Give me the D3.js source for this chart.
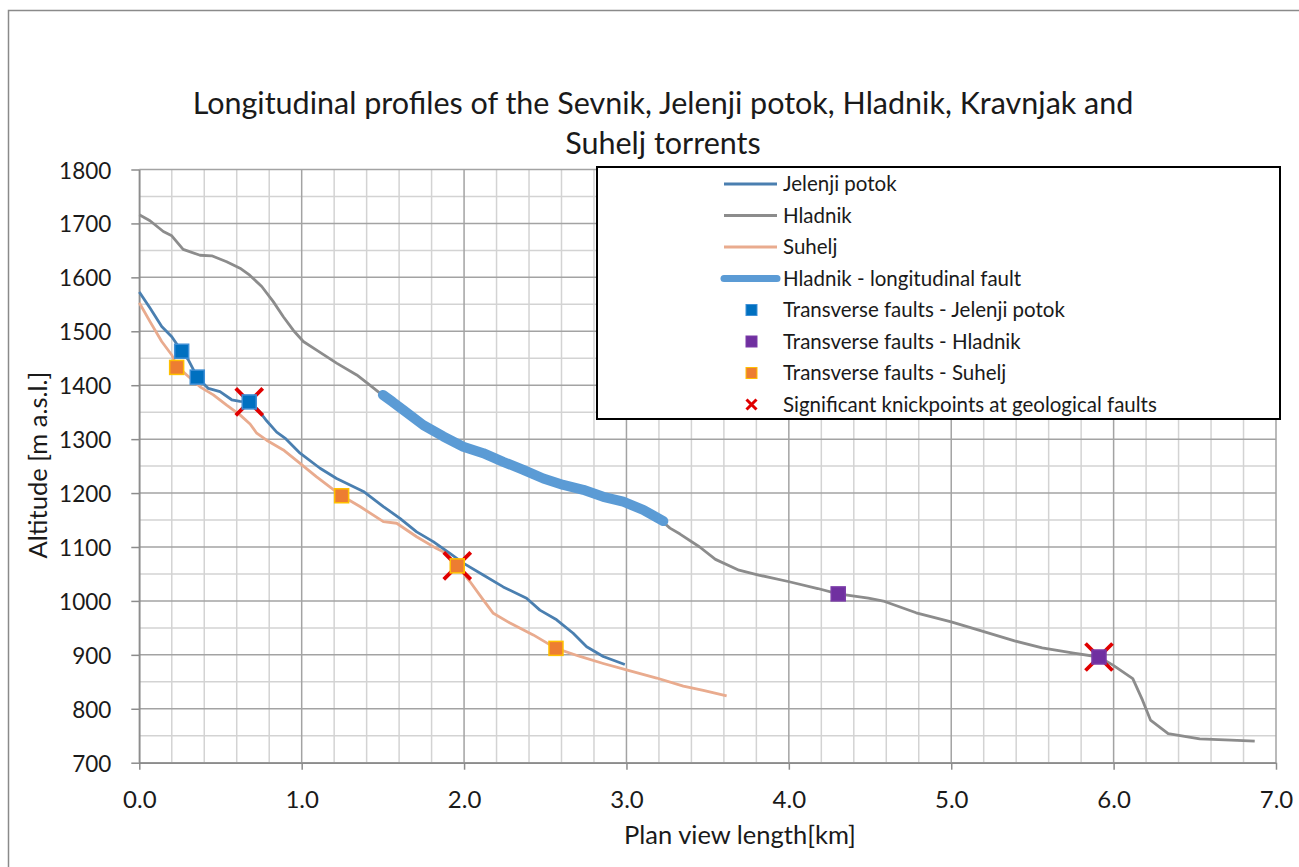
<!DOCTYPE html>
<html><head><meta charset="utf-8">
<script src="https://cdn.jsdelivr.net/npm/d3@7"></script>
<style>body{margin:0;background:#fff}svg{display:block}text{font-family:Lato,"Open Sans",sans-serif;fill:#1a1a1a}</style>
</head><body><svg id="c" width="1299" height="867"></svg>
<script>
const titleLines = ["Longitudinal profiles of the Sevnik, Jelenji potok, Hladnik, Kravnjak and", "Suhelj torrents"];
const xTickLabels = [0, 1, 2, 3, 4, 5, 6, 7];
const yTickLabels = [700, 800, 900, 1000, 1100, 1200, 1300, 1400, 1500, 1600, 1700, 1800];
const xTitle = "Plan view length[km]";
const yTitle = "Altitude [m a.s.l.]";

const jelenji = [[0,1573],[0.066,1543],[0.138,1509],[0.2,1490],[0.261,1463],[0.302,1447],[0.357,1415],[0.425,1394],[0.497,1388],[0.569,1373],[0.62,1370],[0.677,1369],[0.733,1354],[0.784,1334],[0.846,1313],[0.897,1302],[0.99,1274],[1.113,1246],[1.215,1227],[1.38,1203],[1.503,1175],[1.605,1153],[1.708,1128],[1.81,1110],[1.913,1088],[1.995,1070],[2.118,1048],[2.241,1026],[2.385,1005],[2.467,983],[2.57,965],[2.672,940],[2.755,915],[2.857,897],[2.99,882]];
const hladnik = [[0,1716],[0.066,1705],[0.148,1685],[0.2,1677],[0.27,1652],[0.374,1641],[0.446,1640],[0.538,1629],[0.62,1617],[0.68,1604],[0.754,1583],[0.825,1555],[0.887,1527],[0.948,1502],[1.01,1481],[1.092,1465],[1.215,1441],[1.339,1419],[1.42,1400],[1.47,1388],[1.503,1380],[1.626,1354],[1.749,1326],[1.872,1305],[1.995,1286],[2.118,1274],[2.241,1258],[2.365,1243],[2.488,1227],[2.611,1215],[2.734,1206],[2.857,1193],[2.98,1184],[3.103,1169],[3.227,1146],[3.268,1135],[3.33,1124],[3.451,1100],[3.548,1077],[3.693,1057],[3.814,1048],[3.996,1036],[4.178,1023],[4.304,1013],[4.49,1005],[4.59,999],[4.784,978],[5.0,961],[5.17,946],[5.39,926],[5.56,913],[5.754,903],[5.91,896],[5.996,881],[6.118,856],[6.178,816],[6.227,779],[6.336,754],[6.53,744],[6.724,742],[6.869,740]];
const suhelj = [[0,1553],[0.066,1518],[0.138,1481],[0.2,1456],[0.23,1436],[0.292,1419],[0.374,1397],[0.456,1382],[0.538,1363],[0.62,1345],[0.682,1328],[0.723,1311],[0.784,1298],[0.887,1280],[0.99,1255],[1.092,1230],[1.246,1195],[1.359,1175],[1.503,1147],[1.585,1144],[1.708,1119],[1.831,1097],[1.893,1088],[1.958,1065],[2.036,1036],[2.118,1002],[2.18,977],[2.283,959],[2.426,937],[2.566,912],[2.714,897],[2.857,884],[3.0,872],[3.186,857],[3.35,842],[3.473,834],[3.617,824]];
const hladnikFault = [[1.50,1382],[1.56,1369],[1.626,1354],[1.749,1326],[1.872,1305],[1.995,1286],[2.118,1274],[2.241,1258],[2.365,1243],[2.488,1227],[2.611,1215],[2.734,1206],[2.857,1193],[2.98,1184],[3.103,1169],[3.227,1148]];
const faultsJelenji = [[0.261,1463],[0.357,1415],[0.677,1369]];
const faultsHladnik = [[4.304,1013],[5.91,896]];
const faultsSuhelj = [[0.23,1433],[1.246,1195],[1.958,1065],[2.566,912]];
const knickpoints = [[0.677,1369],[1.958,1065],[5.91,896]];

const legendItems = [
  {label:"Jelenji potok", type:"line", color:"#4a7fb0", w:2.8},
  {label:"Hladnik", type:"line", color:"#8c8c8c", w:2.8},
  {label:"Suhelj", type:"line", color:"#e9ab8e", w:2.8},
  {label:"Hladnik - longitudinal fault", type:"line", color:"#5b9bd5", w:7},
  {label:"Transverse faults - Jelenji potok", type:"sq", color:"#0070c0", stroke:"#3f8fd6"},
  {label:"Transverse faults - Hladnik", type:"sq", color:"#7030a0", stroke:"#7a3aa8"},
  {label:"Transverse faults - Suhelj", type:"sq", color:"#ed7d31", stroke:"#ffc000"},
  {label:"Significant knickpoints at geological faults", type:"x", color:"#e00000"}
];

const svg = d3.select("#c");
const x = d3.scaleLinear().domain([0, 7]).range([139.3, 1276]);
const y = d3.scaleLinear().domain([700, 1800]).range([762.7, 169.5]);

// outer border
svg.append("rect").attr("x",8.5).attr("y",10.5).attr("width",1400).attr("height",1000)
  .attr("fill","none").attr("stroke","#8a8a8a").attr("stroke-width",1.5);

// grid
const g = svg.append("g");
const minorX = d3.range(0, 36).map(i => i * 0.2).filter(v => Math.abs(v - Math.round(v)) > 1e-6);
const minorY = d3.range(700, 1801, 50).filter(v => v % 100 !== 0);
g.selectAll(".mx").data(minorX).join("line").attr("x1",d=>x(d)).attr("x2",d=>x(d)).attr("y1",y(700)).attr("y2",y(1800)).attr("stroke","#d3d3d3").attr("stroke-width",1.5);
g.selectAll(".my").data(minorY).join("line").attr("y1",d=>y(d)).attr("y2",d=>y(d)).attr("x1",x(0)).attr("x2",x(7)).attr("stroke","#d3d3d3").attr("stroke-width",1.5);
g.selectAll(".Mx").data(xTickLabels).join("line").attr("x1",d=>x(d)).attr("x2",d=>x(d)).attr("y1",y(700)).attr("y2",y(1800)).attr("stroke","#a3a3a3").attr("stroke-width",1.5);
g.selectAll(".My").data(yTickLabels).join("line").attr("y1",d=>y(d)).attr("y2",d=>y(d)).attr("x1",x(0)).attr("x2",x(7)).attr("stroke","#a3a3a3").attr("stroke-width",1.5);

// axes
const xAxis = svg.append("g").attr("transform",`translate(0,${y(700)})`)
  .call(d3.axisBottom(x).tickValues(xTickLabels).tickFormat(d3.format(".1f")).tickSize(7).tickSizeOuter(0));
xAxis.select(".domain").attr("stroke","#8c8c8c").attr("stroke-width",1.5);
xAxis.selectAll(".tick line").attr("stroke","#8c8c8c").attr("stroke-width",1.5);
xAxis.selectAll("text").attr("font-family","Lato").attr("font-size",24).attr("fill","#1a1a1a").attr("dy",null).attr("y",45);

const yAxis = svg.append("g").attr("transform",`translate(${x(0)},0)`)
  .call(d3.axisLeft(y).tickValues(yTickLabels).tickFormat(d3.format("d")).tickSize(8).tickSizeOuter(0));
yAxis.select(".domain").attr("stroke","#8c8c8c").attr("stroke-width",1.5);
yAxis.selectAll(".tick line").attr("stroke","#8c8c8c").attr("stroke-width",1.5);
yAxis.selectAll("text").attr("font-family","Lato").attr("font-size",22.5).attr("fill","#1a1a1a").attr("x",-28).attr("dy","0.38em");

// lines
const line = d3.line().x(d=>x(d[0])).y(d=>y(d[1])).curve(d3.curveLinear);
svg.append("path").datum(suhelj).attr("d",line).attr("fill","none").attr("stroke","#e9ab8e").attr("stroke-width",2.8).attr("stroke-linejoin","round");
svg.append("path").datum(jelenji).attr("d",line).attr("fill","none").attr("stroke","#4a7fb0").attr("stroke-width",2.8).attr("stroke-linejoin","round");
svg.append("path").datum(hladnik).attr("d",line).attr("fill","none").attr("stroke","#8c8c8c").attr("stroke-width",2.8).attr("stroke-linejoin","round");
svg.append("path").datum(hladnikFault).attr("d",line).attr("fill","none").attr("stroke","#5b9bd5").attr("stroke-width",10).attr("stroke-linejoin","round").attr("stroke-linecap","round");

// knickpoint X
function drawX(sel, cx, cy, s, w){
  sel.append("path").attr("d",`M${cx-s},${cy-s}L${cx+s},${cy+s}M${cx-s},${cy+s}L${cx+s},${cy-s}`)
    .attr("stroke","#e00000").attr("stroke-width",w).attr("fill","none");
}
knickpoints.forEach(d => drawX(svg, x(d[0]), y(d[1]), 13.5, 3.8));

// squares
function squares(data, fill, stroke){
  svg.selectAll(null).data(data).join("rect")
    .attr("x",d=>x(d[0])-7).attr("y",d=>y(d[1])-7).attr("width",14).attr("height",14)
    .attr("fill",fill).attr("stroke",stroke).attr("stroke-width",1.5);
}
squares(faultsJelenji, "#0070c0", "#3f8fd6");
squares(faultsHladnik, "#7030a0", "#7a3aa8");
squares(faultsSuhelj, "#ed7d31", "#ffc000");

// title
svg.append("g").selectAll("text").data(titleLines).join("text")
  .attr("x",663).attr("y",(d,i)=>114 + i*40).attr("text-anchor","middle")
  .attr("font-size",30.5).text(d=>d);

// axis titles
svg.append("text").attr("x",740).attr("y",844).attr("text-anchor","middle").attr("font-size",25.5).text(xTitle);
svg.append("text").attr("transform","translate(47,465) rotate(-90)").attr("text-anchor","middle").attr("font-size",25.5).text(yTitle);

// legend
const lg = svg.append("g");
lg.append("rect").attr("x",597).attr("y",167).attr("width",683).attr("height",252).attr("fill","#fff").attr("stroke","#000").attr("stroke-width",2);
legendItems.forEach((it, i) => {
  const cy = 184 + i * 31.5;
  if (it.type === "line") {
    lg.append("line").attr("x1",724).attr("x2",777).attr("y1",cy).attr("y2",cy).attr("stroke",it.color).attr("stroke-width",it.w).attr("stroke-linecap", it.w>5?"round":"butt");
  } else if (it.type === "sq") {
    lg.append("rect").attr("x",746).attr("y",cy-5.5).attr("width",11).attr("height",11).attr("fill",it.color).attr("stroke",it.stroke).attr("stroke-width",1);
  } else {
    drawX(lg, 751.5, cy, 5, 3);
  }
  lg.append("text").attr("x",783).attr("y",cy).attr("dy","0.36em").attr("font-size",20.5).text(it.label);
});
</script>
</body></html>
